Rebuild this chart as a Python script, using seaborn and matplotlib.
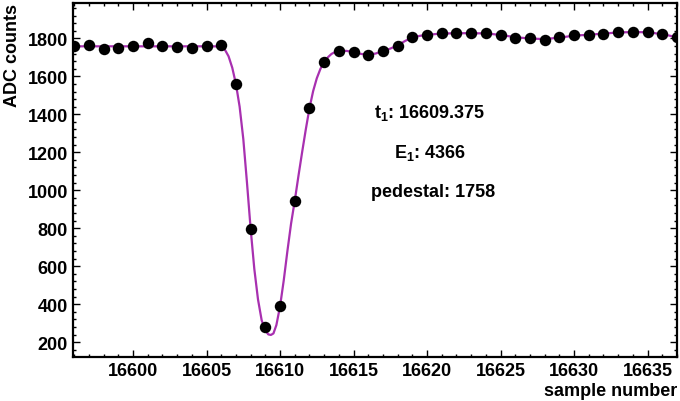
import matplotlib.pyplot as plt
import pandas as pd
import seaborn as sns
from matplotlib.ticker import AutoMinorLocator, MultipleLocator

# Sample data (ADC counts per sample)
samples = list(range(16596, 16638))
adc = [
    1760, 1764, 1746, 1749, 1762, 1773, 1758, 1752, 1748, 1758, 1764,
    1559, 796, 279, 389, 945, 1432, 1675,
    1733, 1729, 1714, 1733, 1761, 1805, 1817, 1826, 1826, 1826, 1826,
    1817, 1803, 1800, 1793, 1805, 1816, 1817, 1824, 1832, 1832, 1832,
    1821, 1805,
]

# Fitted pulse curve
fit_x = [
    16595.9, 16597, 16598, 16599, 16600, 16601, 16602, 16603, 16604, 16605,
    16605.5, 16606.0, 16606.25, 16606.5, 16606.75, 16607.0, 16607.25,
    16607.5, 16607.75, 16608.0, 16608.25, 16608.5, 16608.75, 16609.0,
    16609.2, 16609.375, 16609.55, 16609.75, 16610.0, 16610.25, 16610.5,
    16610.75, 16611.0, 16611.25, 16611.5, 16611.75, 16612.0, 16612.25,
    16612.5, 16612.75, 16613.0, 16613.25, 16613.5, 16613.75, 16614.0,
    16614.5, 16615.0, 16615.5, 16616.0, 16616.5, 16617.0, 16617.5,
    16618.0, 16618.5, 16619.0, 16619.5, 16620.0, 16621.0, 16622.0,
    16623.0, 16624.0, 16625.0, 16626.0, 16627.0, 16628.0, 16629.0,
    16630.0, 16631.0, 16632.0, 16633.0, 16634.0, 16635.0, 16636.0,
    16637.0,
]
fit_y = [
    1758, 1758, 1758, 1758, 1758, 1758, 1758, 1758, 1758, 1758,
    1758, 1756, 1740, 1705, 1645, 1559, 1440,
    1270, 1040, 796, 585, 425, 315, 262,
    241, 238, 246, 290, 389, 525, 680,
    825, 945, 1075, 1200, 1320, 1432, 1522,
    1590, 1640, 1675, 1700, 1718, 1728, 1733,
    1734, 1728, 1718, 1714, 1720, 1733, 1746,
    1763, 1786, 1805, 1813, 1819, 1825, 1827,
    1827, 1826, 1818, 1806, 1799, 1796, 1804,
    1814, 1819, 1825, 1831, 1833, 1832, 1822,
    1806,
]

# Fit results
t1 = "16609.375"
e1 = "4366"
pedestal = "1758"

data = pd.DataFrame({"sample": samples, "adc": adc})
fit = pd.DataFrame({"sample": fit_x, "adc": fit_y})

sns.set_theme(style="ticks")
plt.rcParams["font.family"] = ["Liberation Sans", "DejaVu Sans"]
plt.rcParams["font.weight"] = "bold"
plt.rcParams["text.color"] = "black"
plt.rcParams["axes.labelcolor"] = "black"
plt.rcParams["mathtext.fontset"] = "custom"
plt.rcParams["mathtext.bf"] = "Liberation Sans:bold"
plt.rcParams["mathtext.rm"] = "Liberation Sans:bold"
plt.rcParams["mathtext.default"] = "bf"

fig, ax = plt.subplots(figsize=(6.8, 4.02), dpi=100)
fig.subplots_adjust(left=0.107, right=0.9956, top=0.990, bottom=0.109)

sns.lineplot(data=fit, x="sample", y="adc", color="#a830b0", linewidth=1.6,
             sort=False, ax=ax, zorder=2)
sns.scatterplot(data=data, x="sample", y="adc", color="black", s=68,
                edgecolor="black", linewidth=0, ax=ax, zorder=3)

ax.set_xlim(16595.9, 16637.0)
ax.set_ylim(121, 1986)

# Ticks, ROOT style
ax.xaxis.set_major_locator(MultipleLocator(5))
ax.xaxis.set_minor_locator(AutoMinorLocator(5))
ax.yaxis.set_major_locator(MultipleLocator(200))
ax.yaxis.set_minor_locator(AutoMinorLocator(5))
ax.tick_params(which="both", direction="in", top=True, right=True,
               width=1.0, colors="black", labelsize=13)
ax.tick_params(which="major", length=5)
ax.tick_params(which="minor", length=2.5)
for lab in ax.get_xticklabels() + ax.get_yticklabels():
    lab.set_fontweight("bold")
for sp in ax.spines.values():
    sp.set_linewidth(1.6)
    sp.set_color("black")

# Axis labels
ax.set_xlabel("sample number", loc="right", fontsize=13, fontweight="bold",
              labelpad=2)
ax.set_ylabel("ADC counts", loc="top", fontsize=13, fontweight="bold",
              labelpad=5)

# Fit annotations
ax.text(16620.2, 1412, rf"t$_1$: {t1}", ha="center", va="center",
        fontsize=13, fontweight="bold")
ax.text(16620.2, 1201, rf"E$_1$: {e1}", ha="center", va="center",
        fontsize=13, fontweight="bold")
ax.text(16620.4, 991, f"pedestal: {pedestal}", ha="center", va="center",
        fontsize=13, fontweight="bold")

fig.savefig("out.png", dpi=100)
